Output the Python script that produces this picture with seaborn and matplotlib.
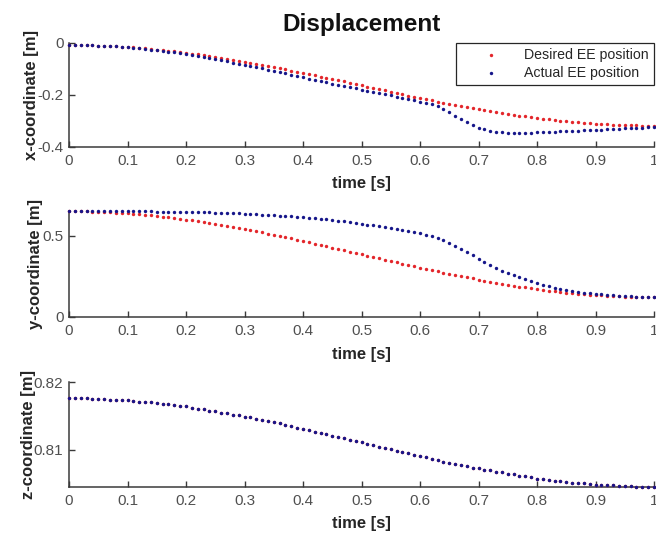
import numpy as np
import matplotlib
matplotlib.use("Agg")
import matplotlib.pyplot as plt
import seaborn as sns

# Sample instants of the logged trajectory (100 Hz over one second)
time_s = np.linspace(0.0, 1.0, 101)

# End-effector x coordinate [m]
x_desired = [
    -0.008, -0.008, -0.008, -0.009, -0.009, -0.010, -0.011, -0.012, -0.013, -0.014,
    -0.016, -0.017, -0.019, -0.021, -0.023, -0.025, -0.027, -0.030, -0.032, -0.035,
    -0.038, -0.041, -0.044, -0.047, -0.050, -0.053, -0.057, -0.060, -0.064, -0.068,
    -0.072, -0.076, -0.080, -0.084, -0.088, -0.093, -0.097, -0.101, -0.106, -0.110,
    -0.115, -0.120, -0.124, -0.129, -0.134, -0.139, -0.144, -0.148, -0.153, -0.158,
    -0.163, -0.168, -0.173, -0.178, -0.182, -0.187, -0.192, -0.197, -0.202, -0.206,
    -0.211, -0.216, -0.220, -0.225, -0.229, -0.233, -0.238, -0.242, -0.246, -0.250,
    -0.254, -0.258, -0.262, -0.266, -0.269, -0.273, -0.276, -0.279, -0.282, -0.285,
    -0.288, -0.291, -0.294, -0.296, -0.299, -0.301, -0.303, -0.305, -0.307, -0.309,
    -0.310, -0.312, -0.313, -0.314, -0.315, -0.316, -0.317, -0.317, -0.318, -0.318,
    -0.318,
]
x_actual = [
    -0.008, -0.008, -0.008, -0.009, -0.009, -0.010, -0.011, -0.012, -0.013, -0.015,
    -0.017, -0.018, -0.020, -0.023, -0.025, -0.027, -0.030, -0.033, -0.036, -0.040,
    -0.043, -0.047, -0.050, -0.054, -0.058, -0.062, -0.066, -0.070, -0.075, -0.079,
    -0.084, -0.088, -0.093, -0.098, -0.102, -0.107, -0.112, -0.117, -0.122, -0.127,
    -0.132, -0.137, -0.141, -0.146, -0.151, -0.156, -0.161, -0.165, -0.170, -0.174,
    -0.179, -0.183, -0.188, -0.192, -0.197, -0.201, -0.206, -0.210, -0.215, -0.220,
    -0.225, -0.230, -0.236, -0.243, -0.254, -0.266, -0.279, -0.292, -0.304, -0.315,
    -0.325, -0.332, -0.338, -0.342, -0.344, -0.345, -0.346, -0.346, -0.345, -0.345,
    -0.344, -0.343, -0.342, -0.341, -0.340, -0.339, -0.338, -0.337, -0.336, -0.335,
    -0.334, -0.333, -0.332, -0.330, -0.329, -0.328, -0.327, -0.326, -0.325, -0.324,
    -0.323,
]

# End-effector y coordinate [m]
y_desired = [
    0.652, 0.652, 0.651, 0.651, 0.650, 0.649, 0.647, 0.646, 0.644, 0.641,
    0.639, 0.636, 0.633, 0.630, 0.627, 0.623, 0.619, 0.615, 0.611, 0.606,
    0.601, 0.596, 0.591, 0.586, 0.580, 0.574, 0.568, 0.562, 0.556, 0.549,
    0.543, 0.536, 0.529, 0.522, 0.515, 0.507, 0.500, 0.492, 0.485, 0.477,
    0.469, 0.461, 0.453, 0.445, 0.437, 0.428, 0.420, 0.412, 0.404, 0.395,
    0.387, 0.379, 0.370, 0.362, 0.354, 0.346, 0.337, 0.329, 0.321, 0.313,
    0.305, 0.297, 0.289, 0.282, 0.274, 0.267, 0.259, 0.252, 0.245, 0.238,
    0.231, 0.225, 0.218, 0.212, 0.206, 0.200, 0.194, 0.188, 0.183, 0.178,
    0.173, 0.168, 0.163, 0.159, 0.155, 0.151, 0.147, 0.144, 0.141, 0.138,
    0.135, 0.133, 0.130, 0.128, 0.127, 0.125, 0.124, 0.123, 0.123, 0.122,
    0.122,
]
y_actual = [
    0.652, 0.652, 0.652, 0.652, 0.652, 0.652, 0.652, 0.652, 0.652, 0.652,
    0.652, 0.651, 0.651, 0.651, 0.651, 0.650, 0.650, 0.650, 0.649, 0.649,
    0.648, 0.647, 0.647, 0.646, 0.645, 0.644, 0.643, 0.642, 0.641, 0.639,
    0.638, 0.636, 0.634, 0.632, 0.630, 0.628, 0.626, 0.623, 0.621, 0.618,
    0.615, 0.612, 0.609, 0.605, 0.602, 0.598, 0.594, 0.590, 0.585, 0.580,
    0.575, 0.570, 0.565, 0.559, 0.554, 0.548, 0.542, 0.536, 0.530, 0.523,
    0.516, 0.508, 0.499, 0.488, 0.474, 0.458, 0.440, 0.422, 0.402, 0.380,
    0.358, 0.337, 0.318, 0.300, 0.284, 0.270, 0.257, 0.245, 0.233, 0.221,
    0.209, 0.198, 0.189, 0.180, 0.172, 0.166, 0.160, 0.155, 0.150, 0.146,
    0.142, 0.139, 0.136, 0.134, 0.132, 0.130, 0.128, 0.126, 0.125, 0.124,
    0.123,
]

# End-effector z coordinate [m] (desired and actual coincide)
z_position = [
    0.8176, 0.8176, 0.8176, 0.8176, 0.8175, 0.8175, 0.8175, 0.8174, 0.8174, 0.8173,
    0.8173, 0.8172, 0.8171, 0.8171, 0.8170, 0.8169, 0.8168, 0.8167, 0.8166, 0.8165,
    0.8164, 0.8162, 0.8161, 0.8160, 0.8158, 0.8157, 0.8155, 0.8154, 0.8152, 0.8151,
    0.8149, 0.8148, 0.8146, 0.8144, 0.8142, 0.8141, 0.8139, 0.8137, 0.8135, 0.8133,
    0.8131, 0.8129, 0.8127, 0.8125, 0.8123, 0.8121, 0.8119, 0.8117, 0.8115, 0.8113,
    0.8111, 0.8109, 0.8107, 0.8105, 0.8103, 0.8101, 0.8099, 0.8097, 0.8095, 0.8093,
    0.8091, 0.8089, 0.8087, 0.8085, 0.8083, 0.8081, 0.8080, 0.8078, 0.8076, 0.8074,
    0.8073, 0.8071, 0.8070, 0.8068, 0.8067, 0.8065, 0.8064, 0.8062, 0.8061, 0.8060,
    0.8058, 0.8057, 0.8056, 0.8055, 0.8054, 0.8053, 0.8052, 0.8051, 0.8051, 0.8050,
    0.8049, 0.8049, 0.8048, 0.8048, 0.8047, 0.8047, 0.8047, 0.8046, 0.8046, 0.8046,
    0.8046,
]

series_labels = ["Desired EE position", "Actual EE position"]
panel_ylabels = ["x-coordinate [m]", "y-coordinate [m]", "z-coordinate [m]"]
time_label = "time [s]"
title_text = "Displacement"

time_ticks = [0, 0.1, 0.2, 0.3, 0.4, 0.5, 0.6, 0.7, 0.8, 0.9, 1.0]
time_tick_labels = ["0", "0.1", "0.2", "0.3", "0.4", "0.5", "0.6", "0.7", "0.8", "0.9", "1"]
x_ticks = [-0.4, -0.2, 0.0]
x_tick_labels = ["-0.4", "-0.2", "0"]
y_ticks = [0.0, 0.5]
y_tick_labels = ["0", "0.5"]
z_ticks = [0.81, 0.82]
z_tick_labels = ["0.81", "0.82"]

# ---------------------------------------------------------------- style
sns.set_style("white")
plt.rcParams["font.family"] = ["Liberation Sans", "DejaVu Sans"]
plt.rcParams["axes.unicode_minus"] = False

RED = "#e3262b"
BLUE = "#16168a"
AXIS_COLOR = "#3a3a3a"
TICK_TEXT = "#505050"
LABEL_TEXT = "#262626"
DOT_SIZE = 6

W, H = 656, 536
fig = plt.figure(figsize=(W / 100, H / 100), dpi=100)
fig.patch.set_facecolor("white")


def px_rect(left, top, right, bottom):
    return [left / W, 1 - bottom / H, (right - left) / W, (bottom - top) / H]


panels = [
    dict(rect=px_rect(69, 43, 654, 147), ylim=(-0.4, 0.0), ticks=x_ticks,
         tick_labels=x_tick_labels, series=(x_desired, x_actual), ylab_x=-0.052),
    dict(rect=px_rect(69, 211, 654, 317), ylim=(0.0, 0.654), ticks=y_ticks,
         tick_labels=y_tick_labels, series=(y_desired, y_actual), ylab_x=-0.045),
    dict(rect=px_rect(69, 382, 654, 487), ylim=(0.80455, 0.82), ticks=z_ticks,
         tick_labels=z_tick_labels, series=(z_position, z_position), ylab_x=-0.056),
]

axes = []
for i, p in enumerate(panels):
    ax = fig.add_axes(p["rect"])
    desired, actual = p["series"]
    sns.scatterplot(x=time_s, y=desired, ax=ax, color=RED, s=DOT_SIZE,
                    linewidth=0, marker="o", label=series_labels[0],
                    legend=False, clip_on=False, zorder=3)
    sns.scatterplot(x=time_s, y=actual, ax=ax, color=BLUE, s=DOT_SIZE,
                    linewidth=0, marker="o", label=series_labels[1],
                    legend=False, clip_on=False, zorder=4)

    ax.set_xlim(0, 1)
    ax.set_ylim(*p["ylim"])
    ax.set_xticks(time_ticks)
    ax.set_xticklabels(time_tick_labels)
    ax.set_yticks(p["ticks"])
    ax.set_yticklabels(p["tick_labels"])

    for side in ("top", "right"):
        ax.spines[side].set_visible(False)
    for side in ("left", "bottom"):
        ax.spines[side].set_color(AXIS_COLOR)
        ax.spines[side].set_linewidth(1.1)

    ax.tick_params(axis="both", direction="in", length=4, width=1.0,
                   color=AXIS_COLOR, labelcolor=TICK_TEXT, labelsize=11,
                   top=False, right=False, left=True, bottom=True)
    ax.tick_params(axis="x", pad=5)
    ax.tick_params(axis="y", pad=4)

    ax.set_xlabel(time_label, fontsize=12, fontweight="bold", color=LABEL_TEXT)
    ax.xaxis.set_label_coords(0.5, -0.28)
    ax.set_ylabel(panel_ylabels[i], fontsize=12, fontweight="bold", color=LABEL_TEXT)
    ax.yaxis.set_label_coords(p["ylab_x"], 0.5)
    axes.append(ax)

ax_top = axes[0]
ax_top.set_title(title_text, fontsize=17.5, fontweight="bold", color="#111111", pad=9)

handles = ax_top.collections[:2]
leg = ax_top.legend(handles=handles, labels=series_labels, loc="upper right",
                    bbox_to_anchor=(1.0, 1.0), borderaxespad=0.0, frameon=True,
                    fancybox=False, framealpha=1.0, edgecolor="#262626",
                    fontsize=10.2, handlelength=4.3, handletextpad=0.2,
                    borderpad=0.35, labelspacing=0.3, scatterpoints=1)
leg.get_frame().set_linewidth(0.9)
for txt in leg.get_texts():
    txt.set_color(LABEL_TEXT)

fig.savefig("out.png", dpi=100, facecolor="white")
